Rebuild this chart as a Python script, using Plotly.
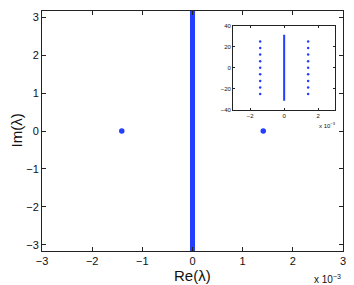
import plotly.graph_objects as go

# data (eigenvalues)
line_re = [0.0, 0.0]            # dense eigenvalues on the imaginary axis (x 1e-3)
line_im = [-31.6, 31.6]
out_re = [-1.41, -1.41, -1.41, -1.41, -1.41, -1.41, -1.41, -1.41, -1.41,
          1.41, 1.41, 1.41, 1.41, 1.41, 1.41, 1.41, 1.41, 1.41]
out_im = [-25.1, -18.8, -12.6, -6.3, 0.0, 6.3, 12.6, 18.8, 25.1,
          -25.1, -18.8, -12.6, -6.3, 0.0, 6.3, 12.6, 18.8, 25.1]
main_xticks = [-3, -2, -1, 0, 1, 2, 3]
main_yticks = [-3, -2, -1, 0, 1, 2, 3]
inset_xticks = [-2, 0, 2]
inset_yticks = [-40, -20, 0, 20, 40]

BLUE = "rgb(35,62,255)"
FONT = "Liberation Sans, Arial, sans-serif"

fig = go.Figure()
# main view
fig.add_trace(go.Scatter(x=line_re, y=line_im, mode="lines",
                         line=dict(color=BLUE, width=5), xaxis="x", yaxis="y",
                         showlegend=False, hoverinfo="skip"))
fig.add_trace(go.Scatter(x=out_re, y=out_im, mode="markers",
                         marker=dict(color=BLUE, size=5.5), xaxis="x", yaxis="y",
                         showlegend=False, cliponaxis=True))
# inset view
fig.add_trace(go.Scatter(x=line_re, y=line_im, mode="lines",
                         line=dict(color=BLUE, width=2), xaxis="x2", yaxis="y2",
                         showlegend=False, hoverinfo="skip"))
fig.add_trace(go.Scatter(x=out_re, y=out_im, mode="markers",
                         marker=dict(color=BLUE, size=2.5), xaxis="x2", yaxis="y2",
                         showlegend=False))

axcommon = dict(showgrid=False, zeroline=False, showline=True, linecolor="#222",
                linewidth=1, mirror="ticks", ticks="inside", tickcolor="#222")

fig.update_layout(
    width=354, height=285,
    margin=dict(l=42, r=8, t=10, b=34),
    paper_bgcolor="white", plot_bgcolor="white",
    font=dict(family=FONT, color="#111", size=11),
    xaxis=dict(domain=[0, 1], range=[-3, 3], tickvals=main_xticks,
               ticklen=4, tickfont=dict(size=11), **axcommon),
    yaxis=dict(domain=[0, 1], range=[-3.16, 3.16], tickvals=main_yticks,
               ticklen=4, tickfont=dict(size=11), **axcommon),
    xaxis2=dict(domain=[0.635, 0.974], range=[-3, 3], tickvals=inset_xticks,
                anchor="y2", ticklen=2, tickfont=dict(size=6), **axcommon),
    yaxis2=dict(domain=[0.589, 0.938], range=[-40, 40], tickvals=inset_yticks,
                anchor="x2", ticklen=2, tickfont=dict(size=6), **axcommon),
    annotations=[
        dict(text="Re(λ)", x=0.5, y=-0.06, xref="paper", yref="paper",
             xanchor="center", yanchor="top", showarrow=False,
             font=dict(size=15, family=FONT)),
        dict(text="Im(λ)", x=-0.088, y=0.5, xref="paper", yref="paper",
             xanchor="center", yanchor="middle", showarrow=False, textangle=-90,
             font=dict(size=15, family=FONT)),
        dict(text="x 10<sup>−3</sup>", x=1.0, y=-0.085, xref="paper", yref="paper",
             xanchor="right", yanchor="top", showarrow=False,
             font=dict(size=10, family=FONT)),
        dict(text="x 10<sup>−3</sup>", x=0.985, y=0.55, xref="paper", yref="paper",
             xanchor="right", yanchor="top", showarrow=False,
             font=dict(size=6, family=FONT)),
    ],
)

fig.write_html("out.html", config={"displayModeBar": False},
               post_script="document.body.style.margin='0';document.body.style.padding='0';")
